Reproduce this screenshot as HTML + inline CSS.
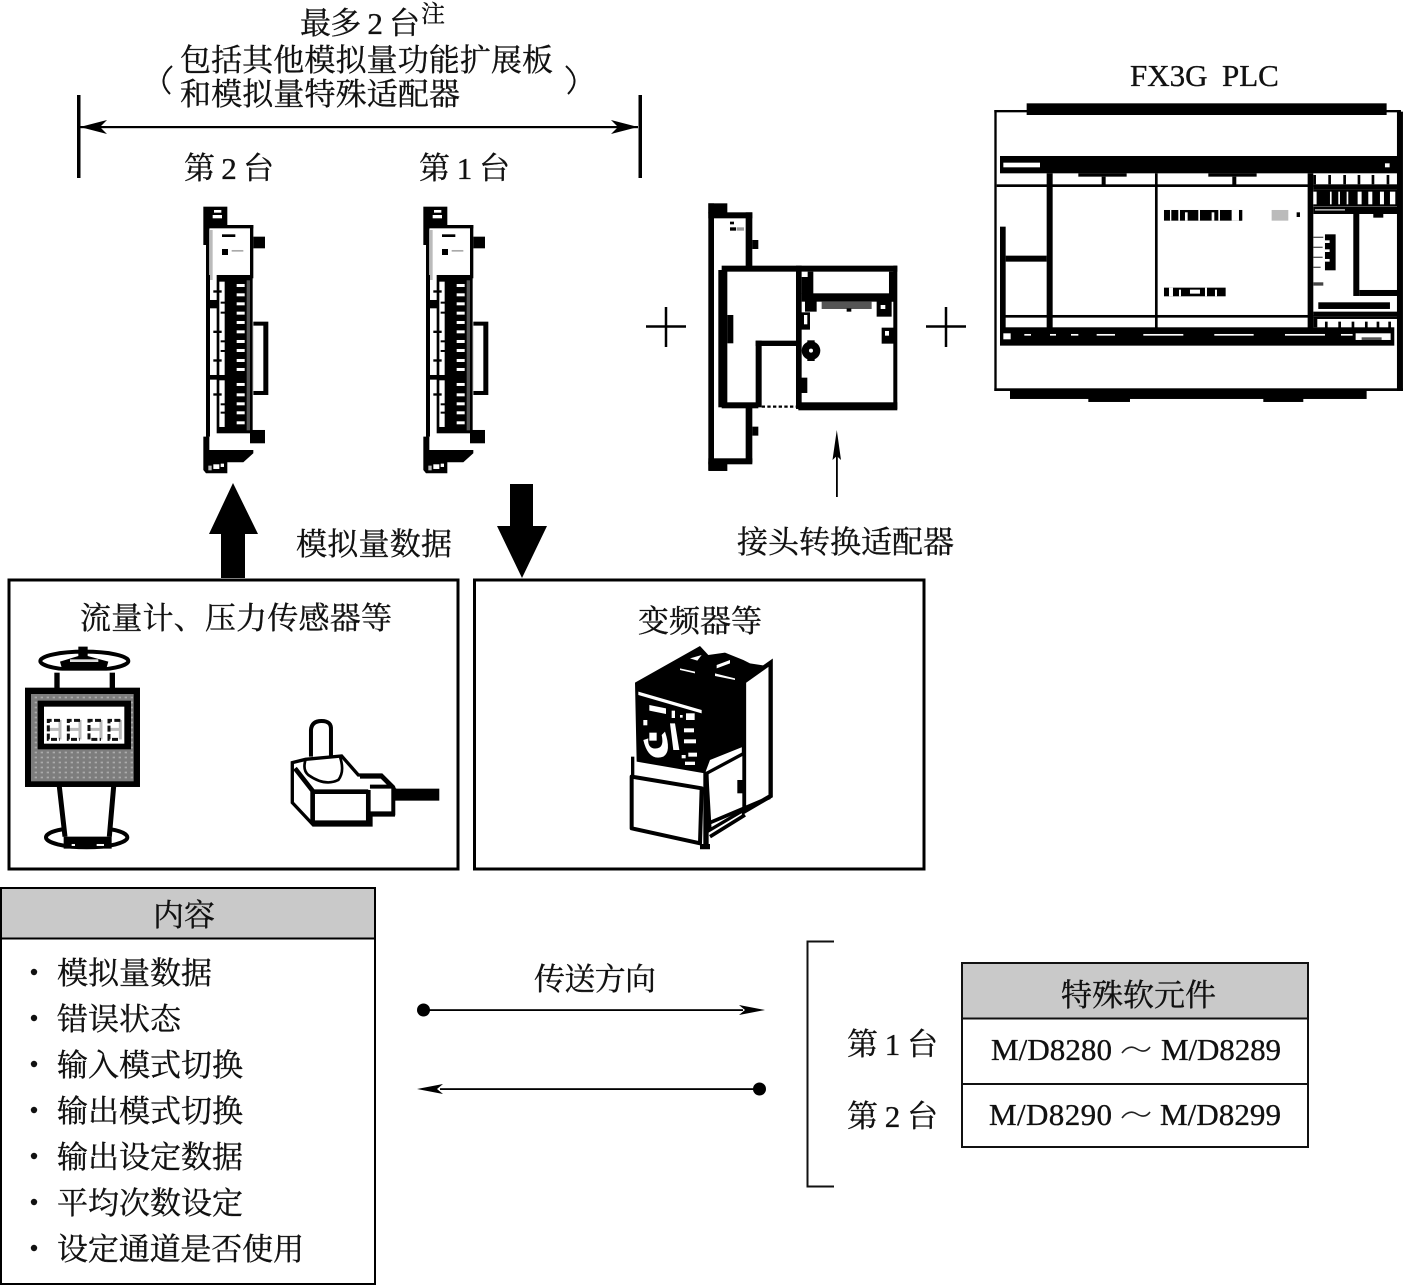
<!DOCTYPE html>
<html><head><meta charset="utf-8"><style>
html,body{margin:0;padding:0;background:#fff}
svg{display:block}
text{font-family:"Liberation Serif","Noto Serif CJK SC",serif;fill:#111;stroke:#111;stroke-width:.35px}
</style></head><body>
<svg xmlns="http://www.w3.org/2000/svg" width="1403" height="1286" viewBox="0 0 1403 1286">
<defs>
<pattern id="dots" width="18" height="15" patternUnits="userSpaceOnUse"><rect width="18" height="15" fill="#7d7d7d"/><rect x="5" y="5" width="7" height="5" fill="#ababab"/></pattern>
<g id="mod">
<rect x="40" y="35" width="72" height="55" fill="#000"/><rect x="72" y="45" width="22" height="8" fill="#fff"/><rect x="68" y="60" width="28" height="10" fill="#fff"/>
<rect x="40" y="90" width="18" height="60" fill="#000"/>
<rect x="48" y="90" width="12" height="640" fill="#000"/>
<rect x="58" y="100" width="122" height="140" fill="#fff"/>
<rect x="60" y="105" width="8" height="150" fill="#bbb"/>
<rect x="55" y="90" width="135" height="10" fill="#000"/>
<rect x="180" y="90" width="10" height="160" fill="#000"/>
<rect x="96" y="118" width="40" height="8" fill="#000"/><rect x="96" y="162" width="18" height="18" fill="#000"/><rect x="125" y="165" width="35" height="5" fill="#aaa"/>
<rect x="190" y="125" width="35" height="35" fill="#000"/>
<rect x="190" y="380" width="45" height="220" fill="#000"/><rect x="190" y="392" width="30" height="196" fill="#fff"/>
<rect x="60" y="260" width="20" height="450" fill="#fff"/>
<rect x="55" y="315" width="30" height="25" fill="#000"/><rect x="55" y="540" width="30" height="14" fill="#000"/>
<rect x="80" y="240" width="108" height="475" fill="#000"/>
<rect x="88" y="260" width="16" height="280" fill="#fff"/><rect x="88" y="556" width="16" height="140" fill="#fff"/>
<rect x="170" y="256" width="10" height="450" fill="#555"/>
<g fill="#fff">
<rect x="140" y="267" width="24" height="9"/><rect x="140" y="295" width="24" height="9"/><rect x="140" y="322" width="24" height="9"/><rect x="140" y="350" width="24" height="9"/><rect x="140" y="378" width="24" height="9"/><rect x="140" y="406" width="24" height="9"/><rect x="140" y="435" width="24" height="9"/><rect x="140" y="462" width="24" height="9"/><rect x="140" y="492" width="24" height="9"/><rect x="140" y="519" width="24" height="9"/><rect x="140" y="564" width="24" height="9"/><rect x="140" y="595" width="24" height="9"/><rect x="140" y="622" width="24" height="9"/><rect x="140" y="649" width="24" height="9"/><rect x="140" y="679" width="24" height="9"/>
</g>
<g fill="#000"><rect x="70" y="286" width="25" height="7"/><rect x="70" y="407" width="25" height="7"/><rect x="70" y="493" width="25" height="7"/><rect x="70" y="595" width="25" height="7"/><rect x="92" y="320" width="14" height="6"/><rect x="92" y="350" width="14" height="6"/><rect x="92" y="436" width="14" height="6"/><rect x="92" y="465" width="14" height="6"/><rect x="92" y="625" width="14" height="6"/><rect x="92" y="650" width="14" height="6"/></g>
<rect x="180" y="705" width="45" height="40" fill="#000"/>
<path d="M55 725H180V770H60z" fill="#fff"/>
<path d="M40 725H58V765H190V775L160 802H112V835H48L40 825z" fill="#000"/>
<rect x="70" y="808" width="18" height="14" fill="#fff"/><rect x="55" y="812" width="10" height="14" fill="#bbb"/><rect x="92" y="806" width="10" height="10" fill="#fff"/>
</g>
</defs>

<!-- top label -->
<text x="300" y="34" font-size="31" textLength="120">最多 2 台</text>
<text x="421" y="22" font-size="24">注</text>
<text x="180" y="71" font-size="31" textLength="373">包括其他模拟量功能扩展板</text>
<text x="180" y="105" font-size="31" textLength="280">和模拟量特殊适配器</text>
<path d="M172 66Q156 80 170 94" fill="none" stroke="#111" stroke-width="2"/>
<path d="M566 66Q582 80 568 94" fill="none" stroke="#111" stroke-width="2"/>
<rect x="77" y="95" width="3.5" height="83" fill="#000"/><rect x="638.500" y="95" width="3.500" height="83" fill="#000"/>
<rect x="80" y="126" width="558" height="2.200" fill="#000"/>
<path d="M80 127L107 120L100 127L107 134zM638 127L611 120L618 127L611 134z" fill="#000"/>
<text x="184" y="179" font-size="31" textLength="90">第 2 台</text>
<text x="419" y="179" font-size="31" textLength="91">第 1 台</text>
<text x="1130" y="86" font-size="31">FX3G</text>
<text x="1222" y="86" font-size="31">PLC</text>

<!-- modules -->
<use href="#mod" transform="translate(190,195) scale(.3333)"/>
<use href="#mod" transform="translate(410,195) scale(.3333)"/>

<!-- plus -->
<path d="M646 326.500H686M666 307V347M926 326.500H966M946 307V347" stroke="#000" stroke-width="2.500"/>

<!-- adapter -->
<g transform="translate(690,195) scale(.3333)" fill="#000">
<rect x="55" y="25" width="57" height="30"/><rect x="55" y="25" width="17" height="800"/>
<rect x="55" y="52" width="132" height="18"/><rect x="167" y="52" width="20" height="165"/>
<rect x="187" y="135" width="18" height="27"/><rect x="187" y="695" width="18" height="27"/>
<rect x="120" y="80" width="12" height="8"/><rect x="120" y="97" width="18" height="10"/><rect x="140" y="97" width="22" height="10" fill="#999"/>
<rect x="95" y="212" width="527" height="18"/><rect x="85" y="225" width="27" height="412"/>
<rect x="112" y="360" width="18" height="85"/>
<rect x="95" y="622" width="110" height="18"/>
<rect x="197" y="437" width="18" height="200"/><rect x="197" y="437" width="133" height="16"/>
<rect x="318" y="212" width="17" height="430"/>
<rect x="325" y="622" width="297" height="24"/><rect x="610" y="212" width="12" height="430"/>
<rect x="335" y="230" width="35" height="66"/><rect x="335" y="295" width="285" height="25"/><rect x="597" y="230" width="23" height="90"/>
<rect x="335" y="230" width="18" height="16" fill="#fff"/>
<rect x="345" y="310" width="35" height="40"/><rect x="395" y="320" width="150" height="22" fill="#555"/><rect x="470" y="340" width="14" height="10"/><rect x="560" y="310" width="45" height="55"/><rect x="572" y="330" width="14" height="12" fill="#fff"/>
<rect x="332" y="352" width="28" height="52"/><rect x="342" y="360" width="10" height="28" fill="#fff"/>
<rect x="575" y="398" width="37" height="48"/><rect x="585" y="408" width="12" height="14" fill="#fff"/>
<circle cx="363" cy="467" r="28"/><rect x="352" y="436" width="22" height="62"/><circle cx="363" cy="467" r="6" fill="#fff"/>
<rect x="332" y="548" width="20" height="46"/>
<rect x="167" y="638" width="20" height="165"/><rect x="55" y="790" width="132" height="18"/><rect x="55" y="800" width="57" height="28"/>
<path d="M215 635H320" stroke="#000" stroke-width="7" stroke-dasharray="10 7" fill="none"/>
</g>
<rect x="836" y="445" width="1.800" height="52" fill="#000"/>
<path d="M836.800 430L841 460L836.800 456L832.500 460z" fill="#000"/>

<!-- PLC -->
<g transform="translate(985,95) scale(.3333)" fill="#000">
<rect x="125" y="25" width="1080" height="35"/>
<rect x="28" y="45" width="1220" height="7"/>
<rect x="28" y="45" width="7" height="843"/>
<rect x="1236" y="50" width="18" height="838"/>
<rect x="28" y="880" width="1226" height="8"/>
<rect x="75" y="885" width="1070" height="27"/><rect x="310" y="900" width="125" height="21"/><rect x="835" y="900" width="120" height="21"/>
<rect x="45" y="183" width="1195" height="52"/><rect x="55" y="203" width="110" height="14" fill="#fff"/><rect x="1200" y="205" width="14" height="12" fill="#fff"/>
<rect x="35" y="268" width="950" height="8"/>
<rect x="185" y="235" width="18" height="465"/><rect x="510" y="235" width="8" height="465"/><rect x="968" y="235" width="17" height="465"/>
<rect x="280" y="235" width="145" height="10"/><rect x="350" y="245" width="12" height="24"/><rect x="670" y="235" width="145" height="10"/><rect x="742" y="245" width="12" height="24"/>
<rect x="45" y="395" width="17" height="305"/><rect x="62" y="482" width="123" height="18"/>
<rect x="45" y="660" width="940" height="8"/>
<rect x="45" y="697" width="1183" height="55"/>
<rect x="55" y="715" width="22" height="18" fill="#fff"/><rect x="1112" y="715" width="105" height="20" fill="#fff"/>
<rect x="1130" y="727" width="60" height="8" fill="#555"/>
<g fill="#fff"><rect x="118" y="717" width="20" height="5"/><rect x="195" y="717" width="18" height="5"/><rect x="258" y="717" width="22" height="5"/><rect x="335" y="717" width="55" height="5"/><rect x="475" y="717" width="120" height="5"/><rect x="688" y="717" width="118" height="5"/><rect x="900" y="717" width="120" height="5"/><rect x="1068" y="717" width="35" height="5"/></g>
<rect x="537" y="345" width="235" height="32"/>
<g fill="#fff"><rect x="555" y="345" width="4" height="32"/><rect x="580" y="345" width="5" height="32"/><rect x="600" y="352" width="8" height="25"/><rect x="640" y="345" width="5" height="32"/><rect x="680" y="352" width="8" height="25"/><rect x="700" y="345" width="5" height="32"/><rect x="740" y="345" width="25" height="32"/></g>
<rect x="762" y="345" width="8" height="32"/>
<rect x="860" y="345" width="50" height="32" fill="#bbb"/><rect x="935" y="352" width="10" height="14"/>
<rect x="537" y="578" width="185" height="26"/>
<g fill="#fff"><rect x="552" y="578" width="12" height="26"/><rect x="582" y="584" width="6" height="20"/><rect x="615" y="584" width="30" height="12"/><rect x="660" y="578" width="6" height="26"/><rect x="690" y="584" width="6" height="20"/></g>
<rect x="985" y="268" width="253" height="16"/>
<g><rect x="985" y="240" width="8" height="28"/><rect x="1030" y="240" width="8" height="28"/><rect x="1075" y="240" width="8" height="28"/><rect x="1118" y="240" width="8" height="28"/><rect x="1160" y="240" width="8" height="28"/><rect x="1205" y="240" width="8" height="28"/></g>
<rect x="985" y="284" width="253" height="50"/>
<g fill="#fff"><rect x="985" y="290" width="10" height="38"/><rect x="1035" y="290" width="5" height="38"/><rect x="1060" y="290" width="5" height="38"/><rect x="1085" y="290" width="5" height="38"/><rect x="1118" y="290" width="12" height="38"/><rect x="1150" y="290" width="12" height="38"/><rect x="1185" y="290" width="12" height="38"/><rect x="1215" y="290" width="16" height="38"/></g>
<rect x="985" y="335" width="255" height="22"/><rect x="990" y="342" width="90" height="5" fill="#aaa"/>
<rect x="1105" y="345" width="18" height="258"/><rect x="1123" y="585" width="115" height="18"/><rect x="1165" y="350" width="30" height="18"/>
<rect x="1020" y="418" width="32" height="108"/><g fill="#fff"><rect x="1020" y="436" width="14" height="8"/><rect x="1020" y="463" width="14" height="8"/><rect x="1020" y="492" width="14" height="8"/></g>
<rect x="985" y="425" width="30" height="4" fill="#555"/><rect x="985" y="455" width="28" height="4" fill="#555"/><rect x="985" y="485" width="28" height="4" fill="#555"/><rect x="985" y="515" width="22" height="4" fill="#555"/>
<rect x="985" y="562" width="30" height="10" fill="#444"/>
<rect x="1000" y="622" width="215" height="20"/>
<rect x="985" y="650" width="253" height="14"/>
<g><rect x="985" y="664" width="253" height="8"/><rect x="985" y="672" width="12" height="25"/><rect x="1020" y="680" width="8" height="20"/><rect x="1060" y="680" width="8" height="20"/><rect x="1100" y="680" width="8" height="20"/><rect x="1140" y="680" width="8" height="20"/><rect x="1175" y="680" width="8" height="20"/><rect x="1210" y="680" width="8" height="20"/></g>
</g>

<!-- big arrows -->
<path d="M233 483L258 534H245V578H221V534H209z" fill="#000"/>
<path d="M510 484H533V526H547L522 578L497 526H510z" fill="#000"/>
<text x="296" y="555" font-size="31" textLength="156">模拟量数据</text>
<text x="737" y="553" font-size="31" textLength="217">接头转换适配器</text>

<!-- boxes -->
<rect x="9" y="580" width="449" height="289" fill="none" stroke="#000" stroke-width="3"/>
<rect x="474.500" y="580" width="449.500" height="289" fill="none" stroke="#000" stroke-width="3"/>
<text x="80" y="629" font-size="31" textLength="312">流量计、压力传感器等</text>
<text x="638" y="632" font-size="31" textLength="124">变频器等</text>

<!-- flowmeter + sensor -->
<g transform="translate(15,640) scale(.3333)">
<ellipse cx="208" cy="63" rx="132" ry="28" fill="#fff" stroke="#000" stroke-width="12"/>
<path d="M135 65L190 48V20H218V48L280 65L270 100H145z" fill="#000"/><rect x="165" y="58" width="85" height="8" fill="#ddd"/>
<rect x="128" y="92" width="160" height="55" fill="#fff"/><rect x="118" y="98" width="16" height="48" fill="#000"/><rect x="284" y="98" width="16" height="48" fill="#000"/>
<ellipse cx="215" cy="592" rx="122" ry="30" fill="#fff" stroke="#000" stroke-width="12"/>
<path d="M130 440L148 590L150 625H278L285 590L298 440z" fill="#fff"/>
<path d="M133 440L150 590M296 440L283 590" stroke="#000" stroke-width="15" fill="none"/>
<path d="M146 590H290V626H146z" fill="#000"/><rect x="170" y="612" width="10" height="6" fill="#fff"/><rect x="245" y="612" width="22" height="6" fill="#fff"/>
<rect x="30" y="143" width="345" height="298" fill="#000"/><rect x="48" y="162" width="308" height="262" fill="url(#dots)"/>
<rect x="68" y="182" width="280" height="146" fill="#000"/><rect x="87" y="200" width="241" height="111" fill="#fff"/>
<g fill="none" stroke-width="9">
<g stroke="#bbb"><path d="M135 240V298M195 240V298M258 240V298M316 240V298M100 268H135M160 268H195M222 268H258M282 268H316" /></g>
<g stroke="#111"><path d="M135 241H100V298H135M195 241H160V298H195M258 241H222V298H258M316 241H282V298H316" stroke-dasharray="18 7"/></g>
</g>
<g fill="none" stroke="#000">
<path d="M888 350V270Q890 243 920 243Q950 243 948 270V350" stroke-width="12" fill="#fff"/>
<path d="M832 368L872 358L980 348L1030 405H1100L1135 440V525H1068V555H895L832 488z" fill="#fff" stroke-width="10"/>
<path d="M872 358Q862 390 880 405Q930 440 970 420Q990 395 975 350" stroke-width="8"/>
<path d="M840 385L895 455H1060" stroke-width="14"/><path d="M893 455V550" stroke-width="14"/><path d="M1060 450V550" stroke-width="14"/>
<path d="M1035 410H1100L1130 440H1065" stroke-width="12"/>
<path d="M1065 520H1135V440" stroke-width="12"/>
<path d="M895 548H1068" stroke-width="14"/>
</g>
<rect x="1135" y="446" width="138" height="36" fill="#000"/>
</g>

<!-- inverter -->
<g transform="translate(610,640) scale(.3333)">
<path d="M402 125L482 68V468L402 515z" fill="#fff" stroke="#000" stroke-width="13"/>
<path d="M290 400L402 340V510L300 570z" fill="#fff" stroke="#000" stroke-width="10"/>
<path d="M75 128L270 18L295 45L345 38L400 60L420 70L470 78L400 125V320L300 360L285 400L80 365z" fill="#000"/>
<g fill="#fff"><path d="M85 155L275 210V220L85 165z"/><path d="M118 195L168 205V222L118 212z"/><path d="M240 55L275 45L262 62z"/><path d="M210 85L255 95V100L210 90z"/><path d="M320 75L360 60V70L320 85z"/><path d="M315 100L375 115V120L315 108z"/><rect x="228" y="220" width="26" height="20"/><rect x="185" y="212" width="10" height="22"/><rect x="210" y="225" width="8" height="8"/><path d="M180 250L195 250L208 330H190z"/><rect x="222" y="265" width="30" height="12"/><rect x="222" y="298" width="36" height="12"/><rect x="215" y="345" width="12" height="10"/><rect x="235" y="338" width="26" height="12"/><rect x="225" y="365" width="30" height="10"/></g>
<path d="M100 300Q115 365 160 350Q185 335 165 275L155 285Q165 330 130 325Q112 320 115 295z" fill="#fff"/><rect x="118" y="278" width="22" height="24" fill="#fff"/><rect x="100" y="240" width="12" height="16" fill="#fff"/>
<path d="M82 378L275 425" stroke="#fff" stroke-width="11"/>
<path d="M65 410L275 445L270 610L65 565z" fill="#fff" stroke="#000" stroke-width="12" stroke-linejoin="round"/>
<path d="M68 350V410" stroke="#000" stroke-width="10"/>
<path d="M288 395V625M270 620H300" stroke="#000" stroke-width="16"/>
<path d="M295 550L480 472M300 590L405 525" stroke="#000" stroke-width="11"/>
<rect x="382" y="420" width="22" height="40" fill="#000"/>
</g>

<!-- content table -->
<rect x="1" y="888" width="374" height="50" fill="#c9c9c9"/>
<rect x="1" y="888" width="374" height="396" fill="none" stroke="#000" stroke-width="2"/>
<path d="M1 938.500H375" stroke="#000" stroke-width="2"/>
<text x="153" y="926" font-size="31" textLength="62">内容</text>
<g font-size="31">
<text x="57" y="984" textLength="155">模拟量数据</text>
<text x="57" y="1030" textLength="124">错误状态</text>
<text x="57" y="1076" textLength="186">输入模式切换</text>
<text x="57" y="1122" textLength="186">输出模式切换</text>
<text x="57" y="1168" textLength="186">输出设定数据</text>
<text x="57" y="1214" textLength="186">平均次数设定</text>
<text x="57" y="1260" textLength="247">设定通道是否使用</text>
</g>
<g fill="#111"><circle cx="34" cy="972" r="3.200"/><circle cx="34" cy="1018" r="3.200"/><circle cx="34" cy="1064" r="3.200"/><circle cx="34" cy="1110" r="3.200"/><circle cx="34" cy="1156" r="3.200"/><circle cx="34" cy="1202" r="3.200"/><circle cx="34" cy="1248" r="3.200"/></g>

<!-- direction -->
<text x="534" y="990" font-size="31" textLength="122">传送方向</text>
<circle cx="423.500" cy="1010" r="6.500" fill="#000"/>
<rect x="423" y="1009.200" width="320" height="1.800" fill="#000"/>
<path d="M765 1010L739 1005L745 1010L739 1015z" fill="#000"/>
<circle cx="759.500" cy="1089" r="6.500" fill="#000"/>
<rect x="440" y="1088.200" width="320" height="1.800" fill="#000"/>
<path d="M417 1089L443 1084L437 1089L443 1094z" fill="#000"/>

<!-- right bracket + table -->
<path d="M834 941.500H807.500V1186.500H834" fill="none" stroke="#111" stroke-width="2"/>
<text x="847" y="1055" font-size="31" textLength="91">第 1 台</text>
<text x="847" y="1127" font-size="31" textLength="91">第 2 台</text>
<rect x="962" y="963" width="346" height="55" fill="#c9c9c9"/>
<rect x="962" y="963" width="346" height="184" fill="none" stroke="#111" stroke-width="2"/>
<path d="M962 1018.500H1308M962 1084H1308" stroke="#111" stroke-width="2"/>
<text x="1061" y="1006" font-size="31" textLength="155">特殊软元件</text>
<text x="991" y="1060" font-size="31" textLength="121">M/D8280</text>
<text x="1161" y="1060" font-size="31" textLength="120">M/D8289</text>
<text x="989" y="1125" font-size="31" textLength="123">M/D8290</text>
<text x="1160" y="1125" font-size="31" textLength="121">M/D8299</text>
<path d="M1122 1053Q1129 1044 1137 1049T1150 1047M1122 1118Q1129 1109 1137 1114T1150 1112" fill="none" stroke="#222" stroke-width="1.600"/>
</svg>
</body></html>
